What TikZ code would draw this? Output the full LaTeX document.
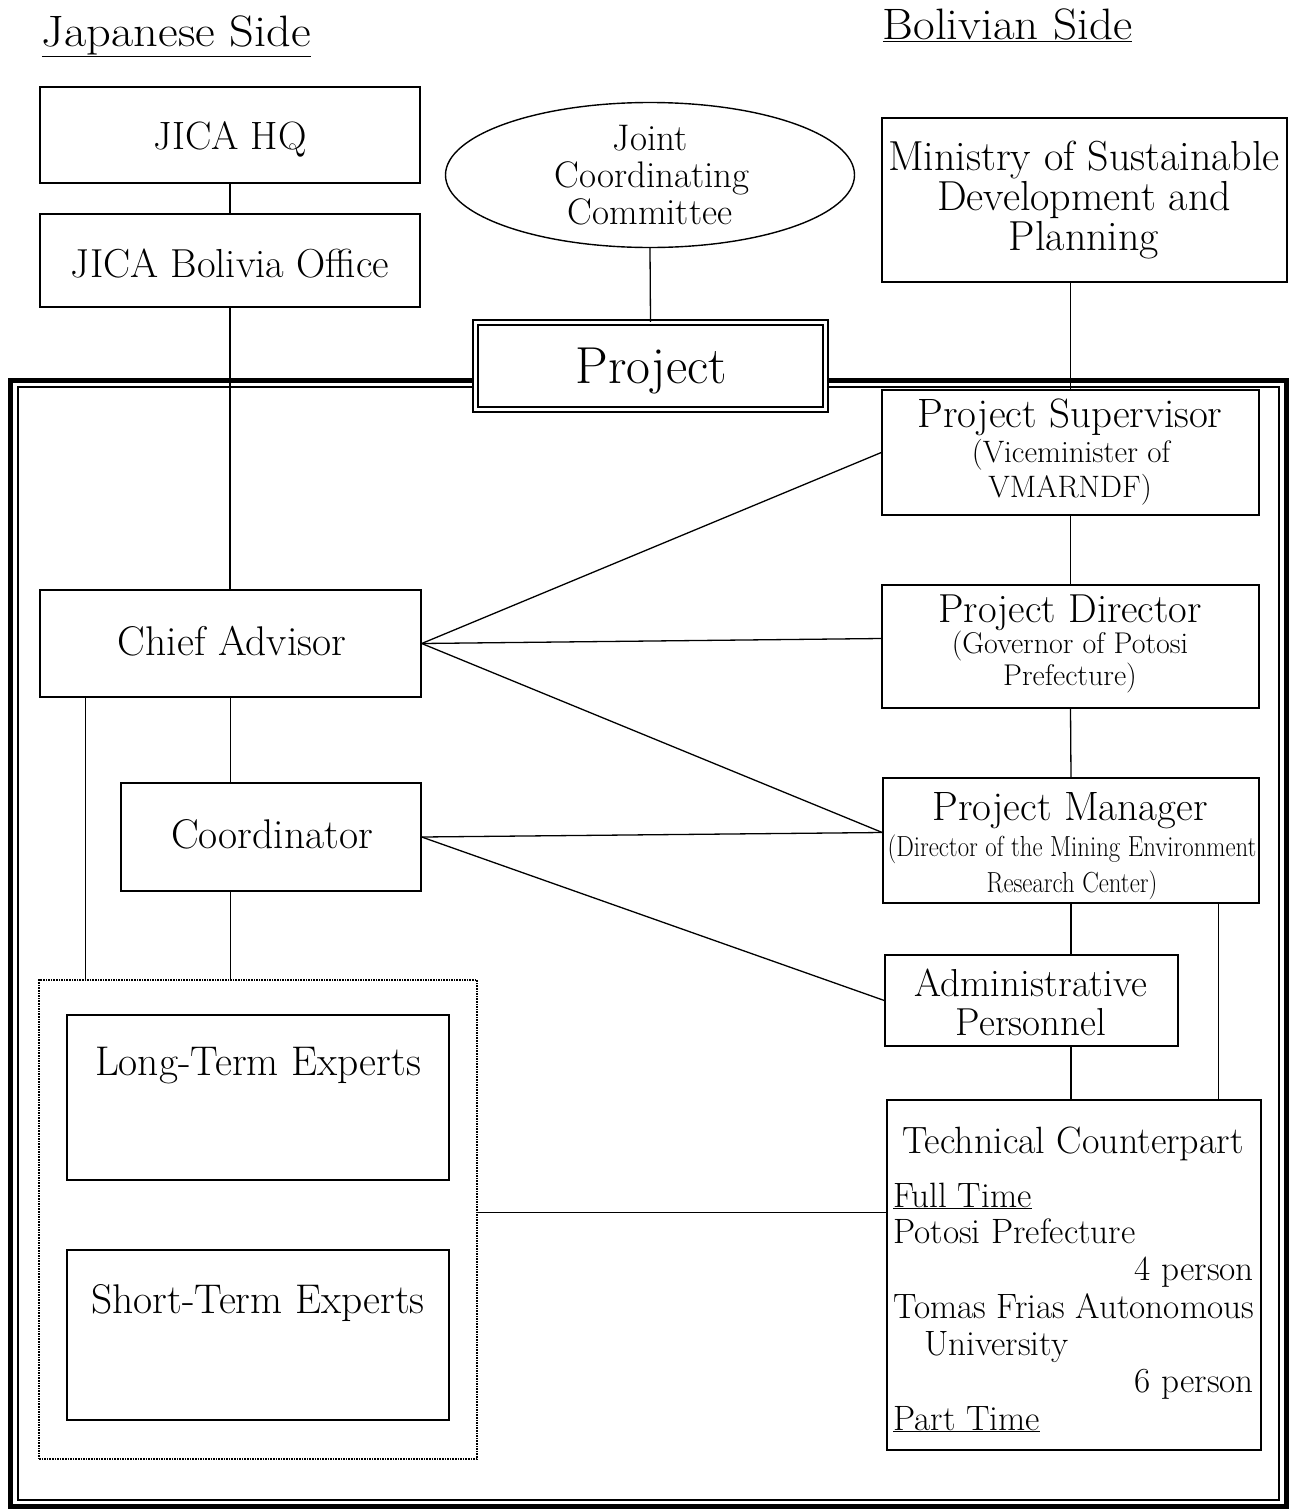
\documentclass[tikz,border=0pt]{standalone}
\usetikzlibrary{shapes.geometric,calc}
\newcommand{\fs}[1]{\fontsize{#1}{#1}\selectfont}
\begin{document}
\begin{tikzpicture}[x=1pt,y=-1pt,
  box/.style={draw, line width=1.4pt, inner sep=0pt, rectangle},
  txt/.style={anchor=base, inner sep=0pt},
  txtl/.style={anchor=base west, inner sep=0pt},
  txtr/.style={anchor=base east, inner sep=0pt},
  conn/.style={line width=1.3pt}]
\useasboundingbox (0,0) rectangle (1293,1510);
\fill[white] (0,0) rectangle (1293,1510);

% outer project frame
\draw[line width=5pt] (10,380) rectangle (1286,1506);
\draw[line width=1.4pt] (18,387) rectangle (1279,1500);

% headings
\node[txt, font=\fs{44}] (jside) at (176.5,46) {\underline{\scalebox{1.1}[1]{Japanese Side}}};
\node[txt, font=\fs{44}] (bside) at (1007.5,39) {\underline{\scalebox{1.07}[1]{Bolivian Side}}};

% boxes
\node[box, minimum width=380pt, minimum height=96pt] (hq) at (230,135) {};
\node[box, minimum width=380pt, minimum height=93pt] (jbo) at (230,260.5) {};
\node[draw, line width=1.4pt, ellipse, minimum width=409pt, minimum height=145pt, inner sep=0pt] (jcc) at (650,175) {};
\node[box, minimum width=405pt, minimum height=164pt] (min) at (1084.5,200) {};
\node[box, minimum width=377pt, minimum height=125pt] (ps) at (1070.5,452.5) {};
\node[box, minimum width=377pt, minimum height=123pt] (pd) at (1070.5,646.5) {};
\node[box, minimum width=376pt, minimum height=125pt] (pm) at (1071,840.5) {};
\node[box, minimum width=293pt, minimum height=91pt] (ap) at (1031.5,1000.5) {};
\node[box, minimum width=374pt, minimum height=350pt] (tc) at (1074,1275) {};
\node[box, minimum width=381pt, minimum height=107pt] (ca) at (230.5,643.5) {};
\node[box, minimum width=300pt, minimum height=108pt] (co) at (271,837) {};
\node[draw, densely dotted, line width=1.6pt, inner sep=0pt, minimum width=438pt, minimum height=479pt] (dot) at (258,1219.5) {};
\node[box, minimum width=382pt, minimum height=165pt] (lte) at (258,1097.5) {};
\node[box, minimum width=382pt, minimum height=170pt] (ste) at (258,1335) {};

% project box (double border)
\node[draw, fill=white, double, double distance=3.5pt, line width=1.5pt, inner sep=0pt, minimum width=350pt, minimum height=87pt] (proj) at (650.5,366) {};

% texts
\node[txt, font=\fs{39.5}] (thq) at (230,149) {JICA HQ};
\node[txt, font=\fs{40.5}] (tjbo) at (230,277) {JICA Bolivia Office};
\node[txt, font=\fs{37}] (tj1) at (650,150) {Joint};
\node[txt, font=\fs{37}] (tj2) at (652,187) {Coordinating};
\node[txt, font=\fs{37}] (tj3) at (650,224) {Committee};
\node[txt, font=\fs{52}] (tproj) at (651,383) {Project};
\node[txt, font=\fs{42}] (tm1) at (1084,170) {Ministry of Sustainable};
\node[txt, font=\fs{42}] (tm2) at (1084,210) {Development and};
\node[txt, font=\fs{42}] (tm3) at (1084,250) {Planning};
\node[txt, font=\fs{41}] (tps1) at (1070,427) {Project Supervisor};
\node[txt, font=\fs{31}] (tps2) at (1071,462) {(Viceminister of};
\node[txt, font=\fs{31}] (tps3) at (1070,497) {VMARNDF)};
\node[txt, font=\fs{40.5}] (tpd1) at (1070,622) {Project Director};
\node[txt, font=\fs{30}] (tpd2) at (1070,653) {(Governor of Potosi};
\node[txt, font=\fs{30}] (tpd3) at (1070,685) {Prefecture)};
\node[txt, font=\fs{41}] (tpm1) at (1070,820) {Project Manager};
\node[txt, font=\fs{29}] (tpm2) at (1072,856) {\scalebox{0.855}[1]{(Director of the Mining Environment}};
\node[txt, font=\fs{29}] (tpm3) at (1072,892) {\scalebox{0.855}[1]{Research Center)}};
\node[txt, font=\fs{41.5}] (tca) at (232,655) {Chief Advisor};
\node[txt, font=\fs{41.5}] (tco) at (272,848) {Coordinator};
\node[txt, font=\fs{39}] (tap1) at (1031,996) {Administrative};
\node[txt, font=\fs{39}] (tap2) at (1031,1035) {Personnel};
\node[txt, font=\fs{41.5}] (tlte) at (258,1075) {Long-Term Experts};
\node[txt, font=\fs{41.5}] (tste) at (258,1313) {Short-Term Experts};
\node[txt, font=\fs{38}] (ttc) at (1073,1153) {Technical Counterpart};
\node[txtl, font=\fs{35.2}] (tft) at (893,1207) {\underline{Full Time}};
\node[txtl, font=\fs{35.2}] (tpp) at (893,1243) {Potosi Prefecture};
\node[txtr, font=\fs{35.2}] (t4p) at (1254,1280) {4 person};
\node[txtl, font=\fs{35.2}] (ttf) at (893,1318) {Tomas Frias Autonomous};
\node[txtl, font=\fs{35.2}] (tun) at (924,1355) {University};
\node[txtr, font=\fs{35.2}] (t6p) at (1254,1392) {6 person};
\node[txtl, font=\fs{35.2}] (tpt) at (893,1430) {\underline{Part Time}};

% connectors
\coordinate (pmr) at ($(pm.south east)+(-41,0)$);
\coordinate (car) at ($(ca.south west)+(46,0)$);
\coordinate (dotr) at ($(dot.east)+(0,-7)$);
\coordinate (pmw) at ($(pm.west)+(0,-8)$);
\coordinate (pdw) at ($(pd.west)+(0,-8)$);
\draw[conn] (hq.south) -- (jbo.north);
\draw[conn] (jcc.south) -- (proj.north);
\draw[conn] (min.south -| ps.north) -- (ps.north);
\draw[conn] (ps.south) -- (pd.north);
\draw[conn] (pd.south) -- (pm.north);
\draw[conn] (pm.south) -- (pm.south |- ap.north);
\draw[conn] (pm.south |- ap.south) -- (pm.south |- tc.north);
\draw[conn] (pmr) -- (pmr |- tc.north);
\draw[conn] (jbo.south) -- (jbo.south |- ca.north);
\draw[conn] (ca.south) -- (ca.south |- co.north);
\draw[conn] (ca.south |- co.south) -- (ca.south |- dot.north);
\draw[conn] (car) -- (car |- dot.north);
\draw[conn] (dotr) -- (tc.west |- dotr);
\draw[conn] (ca.east) -- (ps.west);
\draw[conn] (ca.east) -- (pdw);
\draw[conn] (ca.east) -- (pmw);
\draw[conn] (co.east) -- (pmw);
\draw[conn] (co.east) -- (ap.west);
\end{tikzpicture}
\end{document}
